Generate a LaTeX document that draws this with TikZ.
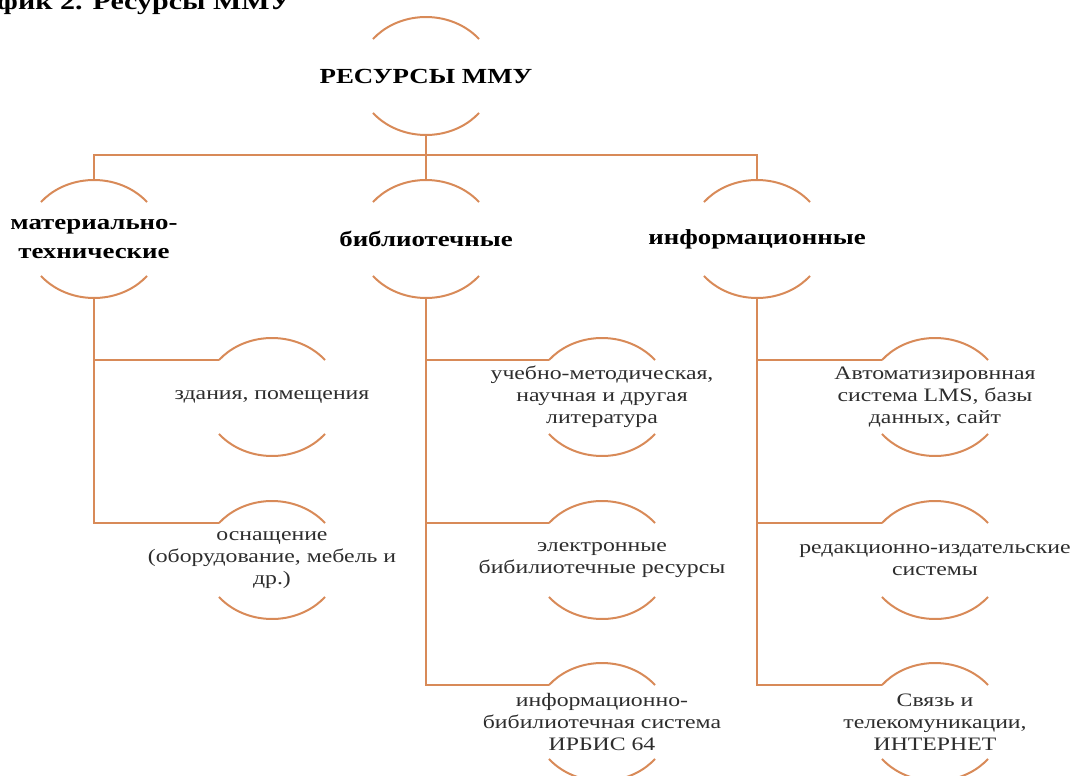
\documentclass[tikz,border=0pt]{standalone}
\usepackage{fontspec}
\setmainfont{Liberation Serif}
\definecolor{arccol}{RGB}{216,138,88}
\definecolor{txtcol}{RGB}{45,45,45}
\tikzset{
  head/.style={font=\fontsize{21.5}{29}\selectfont\bfseries, align=center, xscale=1.25},
  item/.style={font=\fontsize{19}{22}\selectfont, text=txtcol, align=center, xscale=1.25},
  arcline/.style={draw=arccol, line width=2pt},
  link/.style={draw=arccol, line width=2pt},
}

\begin{document}
\begin{tikzpicture}[x=1pt,y=1pt]
  \useasboundingbox (0,0) rectangle (1071,-776);
  \node[font=\fontsize{24}{24}\selectfont\bfseries, anchor=base west, inner sep=0pt, xscale=1.25] (ttl) at (-3,-10) {фик 2. Ресурсы ММУ};
  % top and second level
  \node[head] (res) at (426,-76) {РЕСУРСЫ ММУ};
  \node[head] (mat) at (94,-239) {материально-\\технические};
  \node[head] (lib) at (426,-239) {библиотечные};
  \node[head] (inf) at (757,-239) {информационные};
  % third level
  \node[item] (zd) at (272,-397) {здания, помещения};
  \node[item] (osn) at (272,-560) {оснащение\\(оборудование, мебель и\\др.)};
  \node[item] (uch) at (602,-397) {учебно-методическая,\\научная и другая\\литература};
  \node[item] (el) at (602,-560) {электронные\\бибилиотечные ресурсы};
  \node[item] (irb) at (602,-722) {информационно-\\бибилиотечная система\\ИРБИС 64};
  \node[item] (lms) at (935,-397) {Автоматизировнная\\система LMS, базы\\данных, сайт};
  \node[item] (red) at (935,-560) {редакционно-издательские\\системы};
  \node[item] (sv) at (935,-722) {Связь и\\телекомуникации,\\ИНТЕРНЕТ};
  % arcs above and below each label
  \foreach \n in {res,mat,lib,inf,zd,osn,uch,el,irb,lms,red,sv}{
    \draw[arcline] ([shift={(38.8:68pt and 59pt)}]\n.center) arc[start angle=38.8, end angle=141.2, x radius=68pt, y radius=59pt];
    \draw[arcline] ([shift={(218.8:68pt and 59pt)}]\n.center) arc[start angle=218.8, end angle=321.2, x radius=68pt, y radius=59pt];
    \coordinate (\n-t) at ([yshift=59pt]\n.center);
    \coordinate (\n-b) at ([yshift=-59pt]\n.center);
    \coordinate (\n-w) at ([shift={(141.2:68pt and 59pt)}]\n.center);
  }
  \draw[link] (res-b) -- (lib-t);
  \draw[link] (mat-t) -- ++(0,25) -| (inf-t);
  \draw[link] (mat-b) |- (zd-w);
  \draw[link] (mat-b) |- (osn-w);
  \draw[link] (lib-b) |- (uch-w);
  \draw[link] (lib-b) |- (el-w);
  \draw[link] (lib-b) |- (irb-w);
  \draw[link] (inf-b) |- (lms-w);
  \draw[link] (inf-b) |- (red-w);
  \draw[link] (inf-b) |- (sv-w);
\end{tikzpicture}
\end{document}
